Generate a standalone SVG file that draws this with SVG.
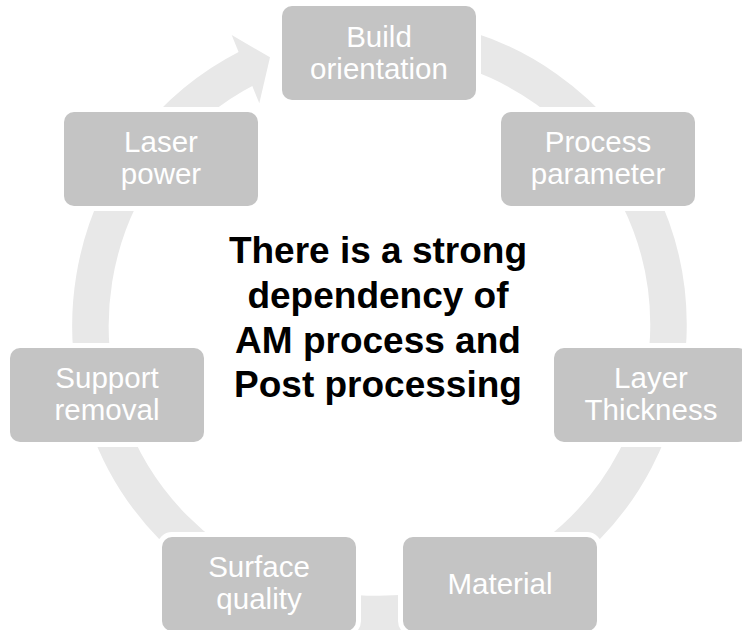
<svg xmlns="http://www.w3.org/2000/svg" width="742" height="630" viewBox="0 0 742 630">
<style>
.node{fill:#c4c4c4;stroke:#ffffff;stroke-width:10;paint-order:stroke}
.lbl{font-family:"Liberation Sans",Arial,sans-serif;font-size:29.5px;fill:#ffffff;text-anchor:middle}
.ctr{font-family:"Liberation Sans",Arial,sans-serif;font-size:37px;font-weight:bold;fill:#000000;text-anchor:middle}
.ring{fill:none;stroke:#e8e8e8;stroke-width:36.5}
.head{fill:#e8e8e8}
</style>
<rect width="742" height="630" fill="#ffffff"/>
<g id="connectors">
<path class="ring" d="M429.7,40.4 A289,289 0 1 1 248.3,67.5"/>
<polygon class="head" points="231.7,35 270,57.3 259.3,103.3"/>
</g>
<g id="build">
<rect class="node" x="282" y="6" width="194" height="94" rx="10"/>
<text class="lbl" x="379" y="46.5">Build</text>
<text class="lbl" x="379" y="78.5">orientation</text>
</g>
<g id="process">
<rect class="node" x="501" y="112" width="194" height="94" rx="10"/>
<text class="lbl" x="598" y="152">Process</text>
<text class="lbl" x="598" y="184">parameter</text>
</g>
<g id="layer">
<rect class="node" x="554" y="348" width="194" height="94" rx="10"/>
<text class="lbl" x="651" y="388">Layer</text>
<text class="lbl" x="651" y="420">Thickness</text>
</g>
<g id="material">
<rect class="node" x="403" y="537" width="194" height="94" rx="10"/>
<text class="lbl" x="500" y="594">Material</text>
</g>
<g id="surface">
<rect class="node" x="162" y="537" width="194" height="94" rx="10"/>
<text class="lbl" x="259" y="577">Surface</text>
<text class="lbl" x="259" y="609">quality</text>
</g>
<g id="support">
<rect class="node" x="10" y="348" width="194" height="94" rx="10"/>
<text class="lbl" x="107" y="388">Support</text>
<text class="lbl" x="107" y="420">removal</text>
</g>
<g id="laser">
<rect class="node" x="64" y="112" width="194" height="94" rx="10"/>
<text class="lbl" x="161" y="152">Laser</text>
<text class="lbl" x="161" y="184">power</text>
</g>
<g id="center">
<text class="ctr" x="378" y="263">There is a strong</text>
<text class="ctr" x="378" y="308">dependency of</text>
<text class="ctr" x="378" y="352.5">AM process and</text>
<text class="ctr" x="378" y="397">Post processing</text>
</g>
</svg>
